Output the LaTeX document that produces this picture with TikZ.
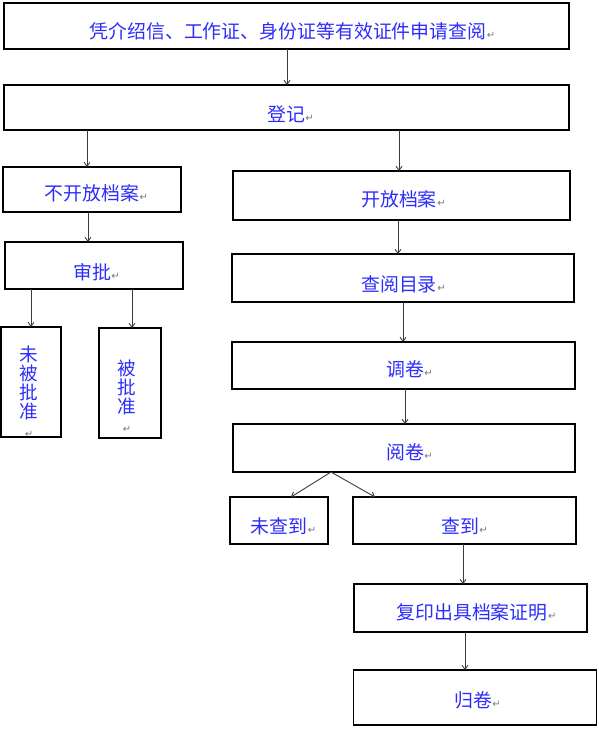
\documentclass[tikz,border=0pt]{standalone}
\usepackage{fontspec}
\newfontfamily\cjk{Noto Sans CJK SC}
\newfontfamily\symf{DejaVu Sans}
\usetikzlibrary{arrows.meta}
\definecolor{txtblue}{RGB}{45,45,250}
\definecolor{arrgray}{RGB}{60,60,60}
\definecolor{markgray}{RGB}{120,120,120}
\newcommand\pmark{\rlap{\kern0.5pt{\symf\fontsize{10}{10}\selectfont\color{markgray}↵}}}
\tikzset{
  box/.style={draw=black, line width=1.15pt, inner sep=0pt, outer sep=0pt, rectangle},
  lbl/.style={inner sep=0pt, text=txtblue, font=\cjk\fontsize{18.9}{19}\selectfont},
  vlbl/.style={inner sep=0pt, text=txtblue, align=center, font=\cjk\fontsize{18.6}{19}\selectfont},
  arr/.style={draw=arrgray, line width=0.9pt, -{Straight Barb[length=4pt,width=6pt]}}
}
\begin{document}
\begin{tikzpicture}[x=1pt,y=-1pt]
\useasboundingbox (0,0) rectangle (598,739);
% boxes
\node[box, minimum width=565pt, minimum height=46pt] (b1) at (286.5,26) {};
\node[box, minimum width=565pt, minimum height=45pt] (b2) at (286.5,107.5) {};
\node[box, minimum width=178pt, minimum height=45pt] (b3) at (92,189.5) {};
\node[box, minimum width=337pt, minimum height=49pt] (b4) at (401.5,195.5) {};
\node[box, minimum width=178pt, minimum height=47pt] (b5) at (94,265.5) {};
\node[box, minimum width=60pt, minimum height=110pt] (b6) at (31,382) {};
\node[box, minimum width=62pt, minimum height=110pt] (b7) at (130,383) {};
\node[box, minimum width=342pt, minimum height=48pt] (b8) at (403,278) {};
\node[box, minimum width=343pt, minimum height=47pt] (b9) at (403.5,365.5) {};
\node[box, minimum width=342pt, minimum height=48pt] (b10) at (404,448) {};
\node[box, minimum width=98pt, minimum height=47pt] (b11) at (279,520.5) {};
\node[box, minimum width=223pt, minimum height=47pt] (b12) at (464.5,520.5) {};
\node[box, minimum width=233pt, minimum height=48pt] (b13) at (470.5,608) {};
\node[box, minimum width=243pt, minimum height=55pt] (b14) at (475,697.5) {};
% labels
\node[lbl] (t1) at (288,31) {凭介绍信、工作证、身份证等有效证件申请查阅\pmark};
\node[lbl] (t2) at (286,114) {登记\pmark};
\node[lbl] (t3) at (92,193) {不开放档案\pmark};
\node[lbl] (t4) at (399,199) {开放档案\pmark};
\node[lbl] (t5) at (92,272) {审批\pmark};
\node[vlbl] (t6) at (29,392) {未\\被\\批\\准\\{\symf\fontsize{10}{10}\selectfont\color{markgray}↵}};
\node[vlbl] (t7) at (127,396) {被\\批\\准\\{\symf\fontsize{10}{10}\selectfont\color{markgray}↵}};
\node[lbl] (t8) at (399,284) {查阅目录\pmark};
\node[lbl] (t9) at (405,369) {调卷\pmark};
\node[lbl] (t10) at (405,452) {阅卷\pmark};
\node[lbl] (t11) at (279,526) {未查到\pmark};
\node[lbl] (t12) at (460,526) {查到\pmark};
\node[lbl] (t13) at (472,612) {复印出具档案证明\pmark};
\node[lbl] (t14) at (473,700) {归卷\pmark};
% connectors
\draw[arr] (b1.south -| 287,0) -- (b2.north -| 287,0);
\draw[arr] (b2.south -| 87,0) -- (b3.north -| 87,0);
\draw[arr] (b2.south -| 399,0) -- (b4.north -| 399,0);
\draw[arr] (b3.south -| 88,0) -- (b5.north -| 88,0);
\draw[arr] (b5.south -| 31,0) -- (b6.north -| 31,0);
\draw[arr] (b5.south -| 132,0) -- (b7.north -| 132,0);
\draw[arr] (b4.south -| 398,0) -- (b8.north -| 398,0);
\draw[arr] (b8.south -| 403,0) -- (b9.north -| 403,0);
\draw[arr] (b9.south -| 405,0) -- (b10.north -| 405,0);
\draw[arr] (b10.south -| 331,0) -- (b11.north -| 291,0);
\draw[arr] (b10.south -| 331,0) -- (b12.north -| 375,0);
\draw[arr] (b12.south -| 463,0) -- (b13.north -| 463,0);
\draw[arr] (b13.south -| 465,0) -- (b14.north -| 465,0);
\end{tikzpicture}
\end{document}
